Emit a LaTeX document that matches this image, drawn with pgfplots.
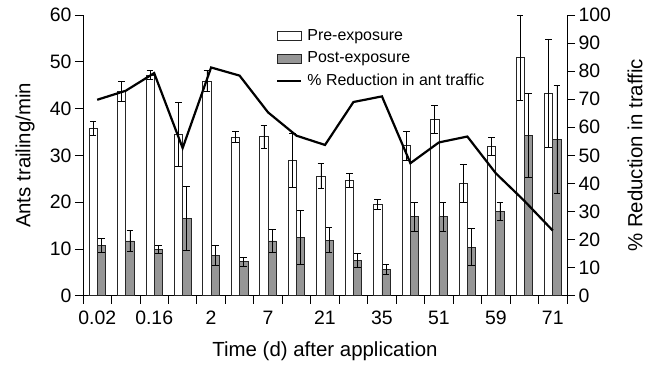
\documentclass[border=0pt]{standalone}
\usepackage{pgfplots}
\pgfplotsset{compat=1.18}
\usepackage{pgfplotstable}
\usepackage{fontspec}
\setmainfont{Liberation Sans}

\pgfplotstableread{
x pre epre post epost
0 35.8 1.5 10.8 1.5
1 43.7 2.1 11.7 2.2
2 47.2 1.0 9.9 0.9
3 34.5 6.8 16.5 6.8
4 45.9 2.2 8.6 2.2
5 33.9 1.2 7.3 1.0
6 34.0 2.5 11.7 2.4
7 29.0 5.8 12.4 5.8
8 25.6 2.7 11.9 2.7
9 24.7 1.5 7.6 1.5
10 19.5 1.1 5.6 1.1
11 32.1 3.1 16.9 3.1
12 37.6 3.0 16.9 3.1
13 24.0 4.0 10.4 4.0
14 31.9 2.0 18.1 1.9
15 50.9 9.1 34.2 9.0
16 43.3 11.6 33.4 11.5
}\bars

\pgfplotstableread{
x red
0 69.8
1 73.0
2 79.3
3 52.6
4 81.3
5 78.4
6 65.3
7 57.0
8 53.7
9 69.0
10 71.0
11 47.2
12 54.6
13 56.7
14 43.6
15 33.8
16 23.2
}\reduction

\definecolor{postgray}{RGB}{150,150,150}

\pgfplotsset{
  common/.style={
    width=484bp, height=280.7bp, scale only axis,
    xmin=-0.5, xmax=16.5,
    tick align=outside,
    major tick length=8bp,
    every tick/.style={black, line width=0.8bp},
    axis line style={black, line width=0.9bp},
    /pgf/number format/assume math mode=true,
    tick label style={font=\fontsize{19.5}{22}\selectfont},
  },
  boxlegend/.style={legend image code/.code={\draw[##1] (0bp,-4.5bp) rectangle (24bp,4.5bp);}},
  linelegend/.style={legend image code/.code={\draw[##1] (0bp,0bp) -- (24bp,0bp);}},
  errstyle/.style={error bars/.cd, y dir=both, y explicit,
    error bar style={black, line width=0.7bp},
    error mark options={black, line width=0.7bp, mark size=3.3bp, rotate=90}},
}

\begin{document}
\begin{tikzpicture}
\begin{axis}[common, name=main,
  ymin=0, ymax=60, ytick={0,10,...,60},
  axis x line*=bottom, axis y line*=left,
  xtick={-0.5,0.5,...,16.5}, xticklabels={},
  extra x ticks={0,2,...,16},
  extra x tick labels={0.02,0.16,2,7,21,35,51,59,71},
  extra x tick style={major tick length=0pt, tick label style={yshift=-12bp}},
  clip=false,
  ybar, bar width=8.3bp,
  xlabel={Time (d) after application},
  ylabel={Ants trailing/min},
  every axis x label/.style={at={(axis description cs:0.5,-0.1996)}, anchor=center, font=\fontsize{20.5}{24}\selectfont},
  every axis y label/.style={at={(axis description cs:-0.1198,0.5)}, rotate=90, anchor=center, font=\fontsize{20.5}{24}\selectfont},
  legend style={draw=none, fill=none, inner sep=0pt, anchor=north west,
    at={(axis description cs:0.3988,0.955)},
    font=\fontsize{16}{19}\selectfont,
    nodes={inner sep=1bp, text height=11.5bp, text depth=3.5bp},
    row sep=5.5bp, column sep=4bp},
  legend cell align=left,
]
\addplot[fill=white, draw=black!85, line width=0.7bp, bar shift=-4.15bp, boxlegend, errstyle]
  table[x=x, y=pre, y error=epre] {\bars};
\addlegendentry{Pre-exposure}
\addplot[fill=postgray, draw=black!85, line width=0.7bp, bar shift=4.15bp, boxlegend, errstyle]
  table[x=x, y=post, y error=epost] {\bars};
\addlegendentry{Post-exposure}
\addlegendimage{black, line width=2.2bp, linelegend}
\addlegendentry{\% Reduction in ant traffic}
\end{axis}
\begin{axis}[common,
  ymin=0, ymax=100, ytick={0,10,...,100},
  axis x line=none, axis y line*=right,
  ylabel={\% Reduction in traffic},
  every axis y label/.style={at={(axis description cs:1.1405,0.5)}, rotate=90, anchor=center, font=\fontsize{20.5}{24}\selectfont},
]
\addplot[black, line width=2.2bp, mark=none] table[x=x, y=red] {\reduction};
\end{axis}
\pgfresetboundingbox
\path ([shift={(-83bp,-71bp)}]main.south west) rectangle ([shift={(87bp,15bp)}]main.north east);
\end{tikzpicture}
\end{document}
